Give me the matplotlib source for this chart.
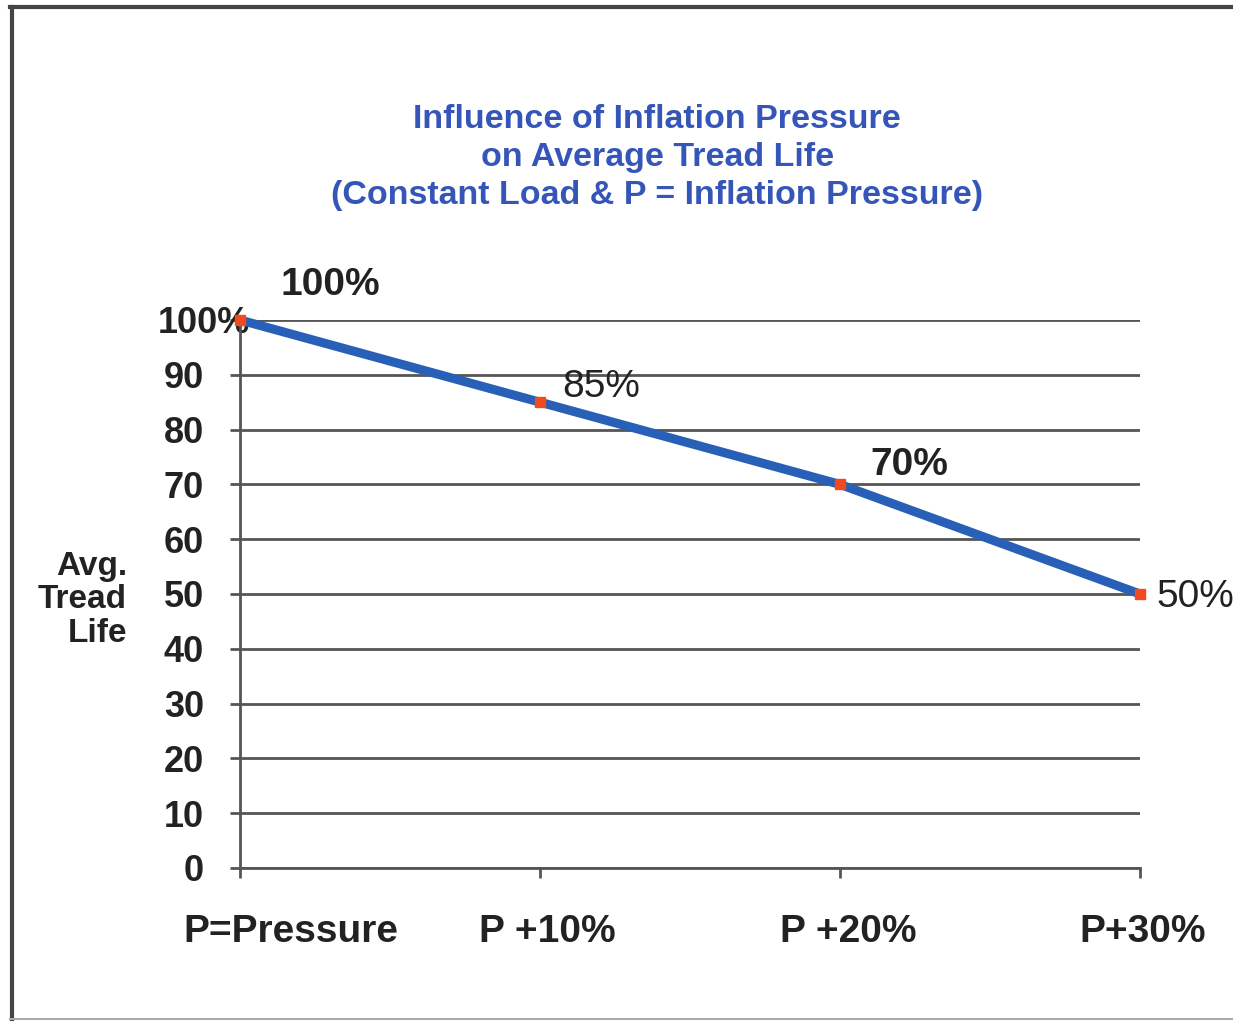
import matplotlib.pyplot as plt
from matplotlib.lines import Line2D

plt.rcParams['font.family'] = ['Liberation Sans', 'DejaVu Sans']

categories = ["P=Pressure", "P +10%", "P +20%", "P+30%"]
tread_life = [100, 85, 70, 50]
point_labels = ["100%", "85%", "70%", "50%"]
y_ticks = [0, 10, 20, 30, 40, 50, 60, 70, 80, 90, 100]
y_tick_labels = ["0", "10", "20", "30", "40", "50", "60", "70", "80", "90", "100%"]

fig = plt.figure(figsize=(12.33, 10.22), dpi=100)
ax = fig.add_axes([0.1946, 0.1507, 0.730, 0.5362])

grid_col = "#555555"
x = list(range(len(categories)))

ax.plot(x, tread_life, color="#2860b8", lw=6.5, solid_capstyle="butt",
        zorder=3, clip_on=False)
ax.plot(x, tread_life, ls="none", marker="s", ms=7, color="#f04a1e",
        zorder=4, clip_on=False)

# labels next to points (offset in points)
offsets = [(65, 25), (44, 11), (50, 14), (12, -2)]
weights = ["bold", "normal", "bold", "normal"]
for xi, yi, lab, off, w in zip(x, tread_life, point_labels, offsets, weights):
    ha = "left" if xi == len(x) - 1 else "center"
    ax.annotate(lab, (xi, yi), xytext=off, textcoords="offset points",
                ha=ha, va="center", fontsize=28, fontweight=w, color="#222222")

ax.set_xlim(0, 3)
ax.set_ylim(0, 100)
ax.set_yticks(y_ticks)
ax.set_yticklabels(y_tick_labels, fontsize=26, fontweight="bold", color="#222222")
ax.get_yticklabels()[-1].set_horizontalalignment("center")

# category labels, shifted a little right of their ticks like the original
ax.set_xticks(x)
ax.set_xticklabels([])
x_shift = [37, 5, 6, 2]
for xi, cat, dx in zip(x, categories, x_shift):
    ax.annotate(cat, (xi, 0), xycoords=("data", "axes fraction"),
                xytext=(dx, -46), textcoords="offset points",
                ha="center", va="center", fontsize=28, fontweight="bold",
                color="#222222", annotation_clip=False)

ax.tick_params(axis="y", length=7, width=2, color=grid_col, pad=19)
ax.tick_params(axis="x", length=7, width=2, color=grid_col)

ax.grid(axis="y", color=grid_col, lw=2)
ax.set_axisbelow(True)
for s in ["top", "right"]:
    ax.spines[s].set_visible(False)
for s in ["left", "bottom"]:
    ax.spines[s].set_color(grid_col)
    ax.spines[s].set_linewidth(2)

fig.text(0.533, 0.846,
         "Influence of Inflation Pressure\non Average Tread Life\n(Constant Load & P = Inflation Pressure)",
         ha="center", va="center", fontsize=24.5, fontweight="bold",
         color="#3556b8", linespacing=1.28)

fig.text(0.103, 0.413, "Avg.\nTread\nLife", ha="right", va="center",
         multialignment="right", fontsize=24, fontweight="bold",
         color="#222222", linespacing=1.1)

# frame around the picture
fig.add_artist(Line2D([0.0097, 0.0097], [0.0030, 0.9930], color="#444444", lw=3))
fig.add_artist(Line2D([0.0085, 1.0], [0.9930, 0.9930], color="#444444", lw=3))
fig.add_artist(Line2D([0.0085, 1.0], [0.0030, 0.0030], color="#aaaaaa", lw=1.5))

fig.savefig("out.png", dpi=100)
